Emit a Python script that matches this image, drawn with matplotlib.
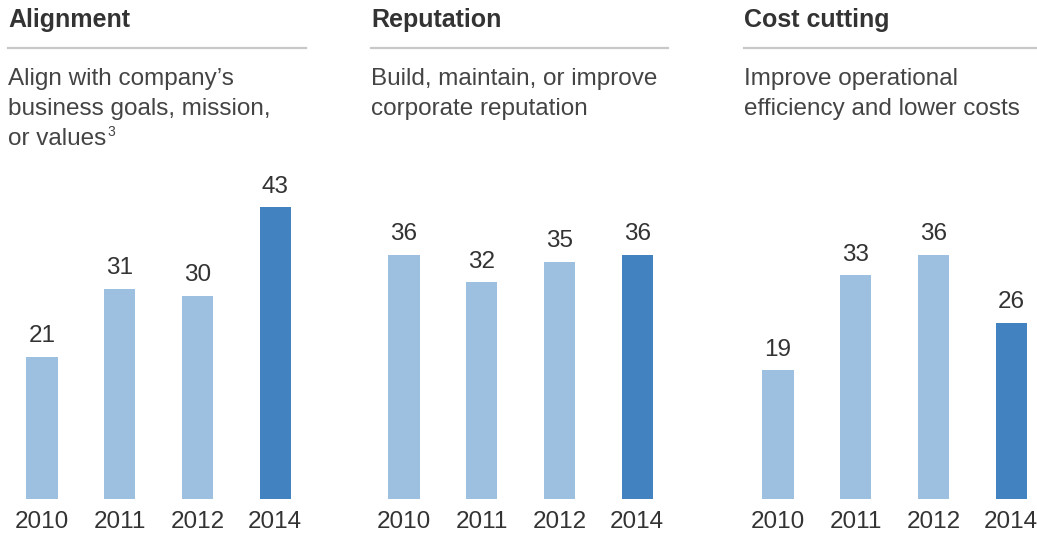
import matplotlib.pyplot as plt
from matplotlib.lines import Line2D

plt.rcParams['font.family'] = ['Liberation Sans', 'DejaVu Sans']

# Data
years = ['2010', '2011', '2012', '2014']
titles = ['Alignment', 'Reputation', 'Cost cutting']
subtitles = [
    ['Align with company\u2019s', 'business goals, mission,', 'or values'],
    ['Build, maintain, or improve', 'corporate reputation'],
    ['Improve operational', 'efficiency and lower costs'],
]
footnotes = ['3', '', '']
alignment = [21, 31, 30, 43]
reputation = [36, 32, 35, 36]
cost_cutting = [19, 33, 36, 26]
series = [alignment, reputation, cost_cutting]

light = '#9dbfe0'
dark = '#4282c0'
W, H = 1037, 535

fig = plt.figure(figsize=(W / 100, H / 100), dpi=100)
renderer = fig.canvas.get_renderer()

# panel left/right edges in pixels
panels = [(8, 306), (371, 668), (744, 1036)]
first_center = [42, 404, 778]
spacing = 77.7
base_y = 499
top_y = 160

for i, (x0, x1) in enumerate(panels):
    # title and rule
    fig.text(x0 / W, 1 - 20 / H, titles[i], fontsize=18, fontweight='bold',
             color='#333333', ha='left', va='center')
    fig.add_artist(Line2D([x0 / W, x1 / W], [1 - 48 / H, 1 - 48 / H],
                          color='#c8c8c8', lw=1.6))
    for j, line in enumerate(subtitles[i]):
        t = fig.text(x0 / W, 1 - (79 + 30 * j) / H, line, fontsize=17.5,
                     color='#444444', ha='left', va='center')
    if footnotes[i]:
        bb = t.get_window_extent(renderer)
        fig.text((bb.x1 + 1) / W, 1 - (79 + 30 * j - 7) / H, footnotes[i],
                 fontsize=10, color='#444444', ha='left', va='center')

    ax = fig.add_axes([x0 / W, 1 - base_y / H, (x1 - x0) / W, (base_y - top_y) / H])
    left = -(first_center[i] - x0) / spacing
    right = left + (x1 - x0) / spacing
    ax.set_xlim(left, right)
    ax.set_ylim(0, 50)
    colors = [light, light, light, dark]
    bars = ax.bar(range(len(years)), series[i], width=0.4, color=colors)
    for b, v in zip(bars, series[i]):
        ax.text(b.get_x() + b.get_width() / 2, v + 1.4, str(v), ha='center',
                va='bottom', fontsize=17.5, color='#333333')
    ax.set_xticks(range(len(years)))
    ax.set_xticklabels(years, fontsize=17.5, color='#333333')
    ax.tick_params(axis='x', length=0, pad=9)
    ax.set_yticks([])
    for s in ax.spines.values():
        s.set_visible(False)

fig.savefig('out.png', dpi=100)
